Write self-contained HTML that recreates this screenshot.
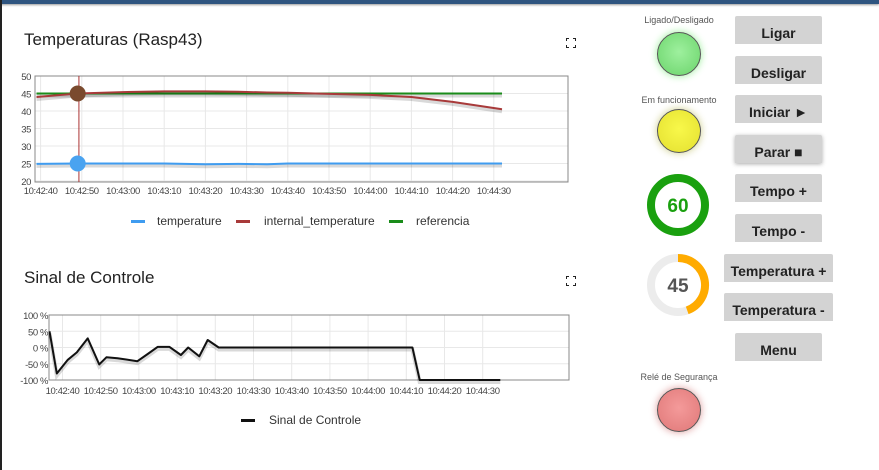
<!DOCTYPE html>
<html><head><meta charset="utf-8">
<style>
body{margin:0;width:879px;height:470px;overflow:hidden;background:#fff;font-family:"Liberation Sans",sans-serif;position:relative}
.topbar{position:absolute;left:0;top:0;width:879px;height:4px;background:#2f5580;box-shadow:0 1px 2px #999}
.leftbar{position:absolute;left:0;top:0;width:2px;height:470px;background:#222}
.title{position:absolute;left:24px;font-size:17px;color:#222}
.btn{position:absolute;background:#d3d3d3;font-size:14px;font-weight:bold;color:#222;text-align:center;line-height:34px;height:28px;overflow:hidden;border-radius:2px 2px 0 0}
.lbl{position:absolute;font-size:9px;color:#555;width:120px;text-align:center;left:619px}
.led{position:absolute;width:42px;height:42px;border-radius:50%;left:657px;border:1px solid #555}
.fs{position:absolute;width:10px;height:10px}
svg text.tk{font-size:9.5px;letter-spacing:-0.4px;fill:#444}
</style></head><body>
<div class="topbar"></div>
<div class="leftbar"></div>
<div class="title" style="top:30px">Temperaturas (Rasp43)</div>
<div class="title" style="top:268px">Sinal de Controle</div>
<svg class="fs" style="left:566px;top:38px" viewBox="0 0 10 10"><path d="M0 3V0H3M7 0H10V3M10 7V10H7M3 10H0V7" fill="none" stroke="#222" stroke-width="2"/></svg>
<svg class="fs" style="left:566px;top:276px" viewBox="0 0 10 10"><path d="M0 3V0H3M7 0H10V3M10 7V10H7M3 10H0V7" fill="none" stroke="#222" stroke-width="2"/></svg>

<svg id="c1" style="position:absolute;left:0;top:0" width="600" height="240"></svg>
<svg id="c2" style="position:absolute;left:0;top:290px" width="600" height="150"></svg>

<div class="lbl" style="top:15px">Ligado/Desligado</div>
<div class="led" style="top:32px;background:radial-gradient(circle at 50% 45%,#9ef09e,#6bd46b);box-shadow:0 0 8px #9e9"></div>
<div class="lbl" style="top:95px">Em funcionamento</div>
<div class="led" style="top:109px;background:radial-gradient(circle at 50% 45%,#f8f84a,#e4e030);box-shadow:0 0 8px #cc8"></div>
<svg style="position:absolute;left:644px;top:171px" width="70" height="70">
<circle cx="34" cy="34" r="27" fill="none" stroke="#1aa00f" stroke-width="8"/>
<text x="34" y="41" font-size="19" font-weight="bold" text-anchor="middle" fill="#1aa00f" font-family="Liberation Sans">60</text></svg>
<svg style="position:absolute;left:644px;top:251px" width="70" height="70">
<circle cx="34" cy="34" r="27" fill="none" stroke="#ececec" stroke-width="8"/>
<path d="M34 7 A27 27 0 0 1 43.2 59.4" fill="none" stroke="#ffab00" stroke-width="8"/>
<text x="34" y="41" font-size="19" font-weight="bold" text-anchor="middle" fill="#555" font-family="Liberation Sans">45</text></svg>
<div class="lbl" style="top:372px">Relé de Segurança</div>
<div class="led" style="top:388px;background:radial-gradient(circle at 50% 45%,#f49a9a,#e07878);box-shadow:0 0 8px #d99"></div>

<div class="btn" style="left:735px;top:16px;width:87px">Ligar</div>
<div class="btn" style="left:735px;top:56px;width:87px">Desligar</div>
<div class="btn" style="left:735px;top:95px;width:87px">Iniciar ►</div>
<div class="btn" style="left:735px;top:135px;width:87px;box-shadow:0 1px 4px #aaa">Parar ■</div>
<div class="btn" style="left:735px;top:174px;width:87px">Tempo +</div>
<div class="btn" style="left:735px;top:214px;width:87px">Tempo -</div>
<div class="btn" style="left:724px;top:254px;width:109px">Temperatura +</div>
<div class="btn" style="left:724px;top:293px;width:109px">Temperatura -</div>
<div class="btn" style="left:735px;top:333px;width:87px">Menu</div>

<script>
// chart 1 data (seconds since 10:42:40)
const tempTimes=[-1,9,20,30,40,48,55,60,70,80,90,100,112];
const temperature=[24.9,25,25,25,24.8,24.9,24.8,25,25,25,25,25,25];
const internalTemp=[44,45,45.4,45.6,45.6,45.5,45.3,45.2,44.9,44.6,44,42.6,40.5];
const referencia=[45,45,45,45,45,45,45,45,45,45,45,45,45];
const tickLabels1=["10:42:40","10:42:50","10:43:00","10:43:10","10:43:20","10:43:30","10:43:40","10:43:50","10:44:00","10:44:10","10:44:20","10:44:30"];
const yTicks1=[20,25,30,35,40,45,50];
// chart 2 data
const ctrlTimes=[-3.4,-1.5,1.4,3.75,6.6,9.6,11.5,14.4,19.6,22.3,24.9,28,31,32.9,35.8,38,40.9,91.6,93.5,114.6];
const ctrlValues=[50,-80,-38,-15,28,-52,-30,-33,-42,-20,2,2,-23,0,-27,23,0,0,-100,-100];
const tickLabels2=tickLabels1;
const yTicks2=[-100,-50,0,50,100];

const NS="http://www.w3.org/2000/svg";
function mk(p,tag,a){const e=document.createElementNS(NS,tag);for(const k in a)e.setAttribute(k,a[k]);p.appendChild(e);return e;}

// chart 1
const s1=document.getElementById('c1');
const x1=t=>40.6+t*4.12, y1=v=>76+(50-v)*3.5;
yTicks1.forEach(v=>{
 const g=mk(s1,'line',{x1:35,x2:568,y1:y1(v),y2:y1(v),stroke:'#e8e8e8'});
 
 const t=mk(s1,'text',{x:31,y:y1(v)+4,'class':'tk','text-anchor':'end'});t.textContent=v;
 
});
tickLabels1.forEach((l,i)=>{
 const x=x1(i*10);
 mk(s1,'line',{x1:x,x2:x,y1:76,y2:182,stroke:'#e8e8e8'});
 const t=mk(s1,'text',{x:x,y:194,'class':'tk','text-anchor':'middle'});t.textContent=l;
 
});
mk(s1,'rect',{x:35,y:76,width:533,height:106,fill:'none',stroke:'#888'});
function line(svg,xs,ys,xf,yf,col,name,w){
 const d=xs.map((t,i)=>(i?'L':'M')+xf(t).toFixed(1)+' '+yf(ys[i]).toFixed(1)).join('');
 mk(svg,'path',{d:d,fill:'none',stroke:'#000','stroke-opacity':0.15,'stroke-width':w+2,transform:'translate(0,2)'});
 const p=mk(svg,'path',{d:d,fill:'none',stroke:col,'stroke-width':w,'stroke-linejoin':'round'});
 
}
line(s1,tempTimes,referencia,x1,y1,'#1a8c1a','referencia-line',2);
line(s1,tempTimes,internalTemp,x1,y1,'#a83a3a','internal-temperature-line',2);
line(s1,tempTimes,temperature,x1,y1,'#3f9cf0','temperature-line',2);
const hx=x1(9.3);
const cur=mk(s1,'line',{x1:hx,x2:hx,y1:76,y2:182,stroke:'#a33',"stroke-width":1});

mk(s1,'circle',{cx:x1(9),cy:y1(45),r:8,fill:'#7a4a2e'});
mk(s1,'circle',{cx:x1(9),cy:y1(25),r:8,fill:'#4aa3f0'});
[[131,'#3f9cf0',157,'temperature'],[236,'#a83a3a',264,'internal_temperature'],[389,'#1a8c1a',416,'referencia']].forEach(e=>{
 mk(s1,'rect',{x:e[0],y:220,width:14,height:3,fill:e[1]});
 const t=mk(s1,'text',{x:e[2],y:225,'font-size':12,fill:'#333'});t.textContent=e[3];
 
});

// chart 2 (svg top=290)
const s2=document.getElementById('c2');
const x2=t=>62.5+t*3.82, y2=v=>25+(100-v)*0.325;
yTicks2.forEach(v=>{
 mk(s2,'line',{x1:49,x2:569,y1:y2(v),y2:y2(v),stroke:'#e8e8e8'});
 const t=mk(s2,'text',{x:48,y:y2(v)+4,'class':'tk','text-anchor':'end'});t.textContent=v+' %';
 
});
tickLabels2.forEach((l,i)=>{
 const x=x2(i*10);
 mk(s2,'line',{x1:x,x2:x,y1:25,y2:90,stroke:'#e8e8e8'});
 const t=mk(s2,'text',{x:x,y:104,'class':'tk','text-anchor':'middle'});t.textContent=l;
 
});
mk(s2,'rect',{x:49,y:25,width:520,height:65,fill:'none',stroke:'#888'});
line(s2,ctrlTimes,ctrlValues,x2,y2,'#111','control-signal-line',2);
mk(s2,'rect',{x:241,y:129,width:14,height:3,fill:'#111'});
const lt=mk(s2,'text',{x:269,y:134,'font-size':12,fill:'#333'});lt.textContent='Sinal de Controle';

</script>
</body></html>
